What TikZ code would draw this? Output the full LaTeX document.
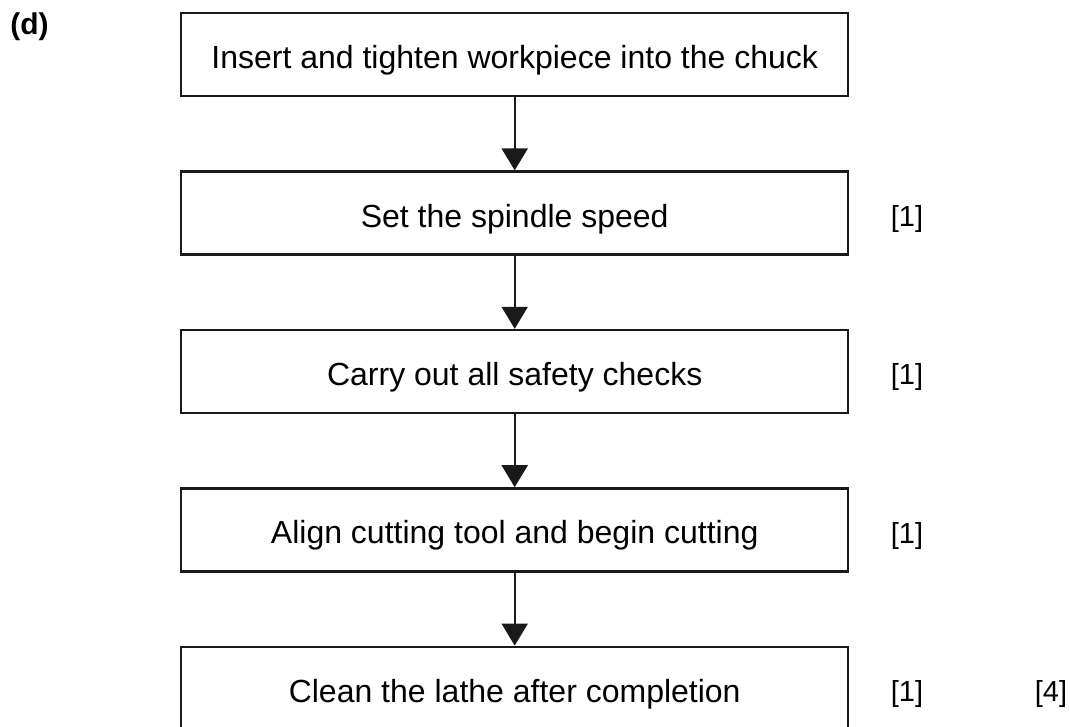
\documentclass[tikz,border=0pt]{standalone}
\usepackage{fontspec}
\setmainfont{Liberation Sans}
\usetikzlibrary{positioning,arrows.meta}

\begin{document}
\begin{tikzpicture}[
    stepbox/.style={draw=black!90, line width=1.2pt, minimum width=333.5pt, minimum height=41.5pt,
      inner sep=0pt, text height=15pt, text depth=1pt, font=\fontsize{16}{19}\selectfont},
    mark label/.style={anchor=west, inner sep=0pt, yshift=-3pt, font=\fontsize{14.5}{17}\selectfont},
    flow/.style={-{Triangle[width=13pt,length=11pt]}, line width=1pt, black!90},
    node distance=36.5pt
  ]
  \useasboundingbox (0,0) rectangle (535pt,-363.5pt);
  \node[anchor=west, inner sep=0pt, font=\fontsize{15}{18}\selectfont\bfseries] (part) at (5pt,-13.5pt) {(d)};
  \node[stepbox, anchor=north west] (insert) at (90pt,-6pt) {Insert and tighten workpiece into the chuck};
  \node[stepbox, below=of insert] (speed) {Set the spindle speed};
  \node[stepbox, below=of speed] (safety) {Carry out all safety checks};
  \node[stepbox, below=of safety] (align) {Align cutting tool and begin cutting};
  \node[stepbox, below=of align] (clean) {Clean the lathe after completion};
  \draw[flow] (insert) -- (speed);
  \draw[flow] (speed) -- (safety);
  \draw[flow] (safety) -- (align);
  \draw[flow] (align) -- (clean);
  \node[mark label] (mspeed) at ([xshift=20.5pt]speed.east) {[1]};
  \node[mark label] (msafety) at ([xshift=20.5pt]safety.east) {[1]};
  \node[mark label] (malign) at ([xshift=20.5pt]align.east) {[1]};
  \node[mark label] (mclean) at ([xshift=20.5pt]clean.east) {[1]};
  \node[mark label] (total) at ([xshift=92.5pt]clean.east) {[4]};
\end{tikzpicture}
\end{document}
